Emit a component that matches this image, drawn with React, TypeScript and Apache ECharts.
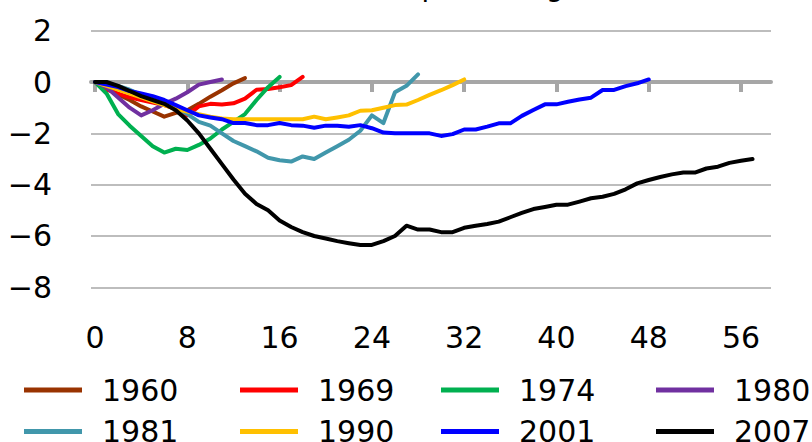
import React, { useEffect, useRef } from "react";
import * as echarts from "echarts";

const seriesNames = ["1960", "1969", "1974", "1980", "1981", "1990", "2001", "2007"];
const seriesColors = ["#993300", "#FF0000", "#00B050", "#7030A0", "#4197AB", "#FFC000", "#0000FF", "#000000"];

const s1960 = [0, -0.22, -0.48, -0.7, -0.95, -1.15, -1.35, -1.2, -1.1, -0.85, -0.57, -0.32, -0.05, 0.15];
const s1969 = [0, -0.3, -0.45, -0.6, -0.7, -0.8, -0.9, -1.05, -1.3, -0.95, -0.85, -0.88, -0.83, -0.65, -0.3, -0.27, -0.2, -0.12, 0.2];
const s1974 = [0, -0.45, -1.25, -1.7, -2.1, -2.5, -2.75, -2.6, -2.65, -2.45, -2.2, -1.85, -1.55, -1.25, -0.7, -0.2, 0.2];
const s1980 = [0, -0.2, -0.6, -1.0, -1.3, -1.1, -0.85, -0.65, -0.4, -0.1, 0.0, 0.1];
const s1981 = [0, -0.05, -0.15, -0.3, -0.5, -0.7, -0.85, -1.0, -1.25, -1.55, -1.7, -2.0, -2.3, -2.5, -2.7, -2.95, -3.05, -3.1, -2.9, -3.0, -2.75, -2.5, -2.25, -1.9, -1.3, -1.6, -0.4, -0.15, 0.3];
const s1990 = [0, -0.15, -0.3, -0.45, -0.6, -0.75, -0.9, -1.05, -1.15, -1.25, -1.35, -1.42, -1.45, -1.45, -1.45, -1.45, -1.45, -1.45, -1.45, -1.35, -1.45, -1.38, -1.3, -1.12, -1.1, -1.0, -0.9, -0.88, -0.7, -0.5, -0.32, -0.12, 0.1];
const s2001 = [0, -0.1, -0.2, -0.35, -0.45, -0.55, -0.7, -0.9, -1.1, -1.3, -1.38, -1.45, -1.6, -1.6, -1.68, -1.68, -1.6, -1.68, -1.7, -1.78, -1.7, -1.7, -1.74, -1.68, -1.8, -1.97, -2.0, -2.0, -2.0, -2.0, -2.1, -2.03, -1.85, -1.85, -1.74, -1.61, -1.61, -1.32, -1.09, -0.87, -0.87, -0.77, -0.68, -0.61, -0.31, -0.31, -0.16, -0.05, 0.1];
const s2007 = [0, 0, -0.15, -0.35, -0.55, -0.7, -0.85, -1.1, -1.5, -2.0, -2.6, -3.2, -3.8, -4.35, -4.75, -5.0, -5.4, -5.65, -5.85, -6.0, -6.1, -6.2, -6.28, -6.35, -6.35, -6.2, -6.0, -5.6, -5.75, -5.75, -5.85, -5.85, -5.68, -5.6, -5.53, -5.44, -5.27, -5.1, -4.95, -4.87, -4.78, -4.78, -4.66, -4.53, -4.47, -4.36, -4.18, -3.95, -3.82, -3.7, -3.6, -3.53, -3.53, -3.37, -3.3, -3.15, -3.07, -3.0];

const seriesValues = [s1960, s1969, s1974, s1980, s1981, s1990, s2001, s2007];

const xTickValues = [0, 8, 16, 24, 32, 40, 48, 56];
const titleText = "(in months, percentage)";

const FONT = "'DejaVu Sans', 'Noto Sans', sans-serif";

const legendLefts = [24, 240, 441, 656];
const legendTops = [375, 416.5];

export default function App() {
  const ref = useRef<HTMLDivElement>(null);

  useEffect(() => {
    if (!ref.current) return;
    const chart = echarts.init(ref.current, undefined, { renderer: "svg" });

    const series = seriesNames.map((name, i) => ({
      name,
      type: "line",
      xAxisIndex: 0,
      yAxisIndex: 0,
      data: seriesValues[i].map((v, t) => [t, v]),
      showSymbol: false,
      symbol: "none",
      color: seriesColors[i],
      lineStyle: { width: 4, color: seriesColors[i], cap: "round", join: "round" },
      emphasis: { disabled: true },
    }));

    const legends = seriesNames.map((name, i) => ({
      orient: "horizontal",
      left: legendLefts[i % 4],
      top: legendTops[Math.floor(i / 4)],
      padding: 0,
      itemWidth: 58,
      itemHeight: 5,
      icon: "rect",
      data: [name],
      textStyle: {
        fontSize: 30,
        fontFamily: FONT,
        color: "#000",
        padding: [0, 0, 0, 15],
      },
      selectedMode: false,
    }));

    chart.setOption({
      animation: false,
      backgroundColor: "#ffffff",
      grid: { left: 91, right: 41, top: 30.7, bottom: 154.7, containLabel: false },
      xAxis: [
        {
          type: "value",
          min: -0.35,
          max: 58.6,
          axisLine: { show: true, onZero: true, lineStyle: { color: "#A6A6A6", width: 4 } },
          axisTick: { show: true, customValues: xTickValues, length: 10, lineStyle: { color: "#A6A6A6", width: 4 } },
          axisLabel: { show: false },
          splitLine: { show: false },
        },
        {
          type: "value",
          position: "bottom",
          min: -0.35,
          max: 58.6,
          axisLine: { show: false, onZero: false },
          axisTick: { show: false },
          axisLabel: {
            show: true,
            customValues: xTickValues,
            margin: 35,
            fontSize: 30,
            fontFamily: FONT,
            color: "#000",
          },
          splitLine: { show: false },
        },
      ],
      yAxis: {
        type: "value",
        min: -8,
        max: 2,
        interval: 2,
        axisLine: { show: false },
        axisTick: { show: false },
        axisLabel: {
          margin: 39,
          fontSize: 30,
          fontFamily: FONT,
          color: "#000",
          formatter: (v: number) => String(v).replace("-", "\u2212"),
        },
        splitLine: { show: true, lineStyle: { color: "#BDBDBD", width: 2 } },
      },
      legend: legends,
      graphic: [
        {
          type: "text",
          x: 253,
          y: -14,
          silent: true,
          style: {
            text: titleText,
            font: `28px ${FONT}`,
            fill: "#000",
            verticalAlign: "middle",
          },
        },
      ],
      series,
    });

    return () => chart.dispose();
  }, []);

  return (
    <div
      ref={ref}
      style={{ position: "fixed", left: 0, top: 0, width: 812, height: 442 }}
    />
  );
}
